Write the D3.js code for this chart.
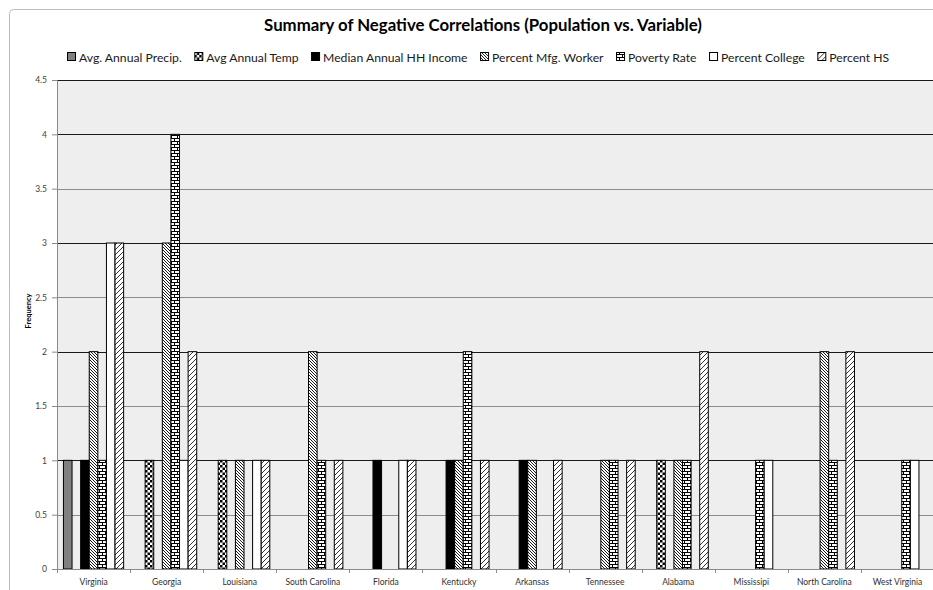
<!DOCTYPE html>
<html>
<head>
<meta charset="utf-8">
<script src="https://cdn.jsdelivr.net/npm/d3@7/dist/d3.min.js"></script>
<style>
  html, body { margin: 0; padding: 0; background: #fff; }
  svg { display: block; }
  text { font-family: Lato, "Open Sans", "Liberation Sans", sans-serif; }
</style>
</head>
<body>
<svg id="chart" width="933" height="590"></svg>
<script>
// Frequency of negative correlations per state, by variable
const categories = ["Virginia", "Georgia", "Louisiana", "South Carolina", "Florida", "Kentucky",
  "Arkansas", "Tennessee", "Alabama", "Mississipi", "North Carolina", "West Virginia"];
const seriesNames = ["Avg. Annual Precip.", "Avg Annual Temp", "Median Annual HH Income",
  "Percent Mfg. Worker", "Poverty Rate", "Percent College", "Percent HS"];

const precip  = [1, 0, 0, 0, 0, 0, 0, 0, 0, 0, 0, 0];
const temp    = [0, 1, 1, 0, 0, 0, 0, 0, 1, 0, 0, 0];
const income  = [1, 0, 0, 0, 1, 1, 1, 0, 0, 0, 0, 0];
const mfg     = [2, 3, 1, 2, 0, 1, 1, 1, 1, 0, 2, 0];
const poverty = [1, 4, 0, 1, 0, 2, 0, 1, 1, 1, 1, 1];
const college = [3, 1, 1, 0, 1, 0, 0, 0, 0, 1, 0, 1];
const hs      = [3, 2, 1, 1, 1, 1, 1, 1, 2, 0, 2, 0];

const yTicks = [0, 0.5, 1, 1.5, 2, 2.5, 3, 3.5, 4, 4.5];

const seriesValues = [precip, temp, income, mfg, poverty, college, hs];
const fills = ["url(#pSolidGray)", "url(#pChecker)", "#000", "url(#pDenseDiag)",
  "url(#pBrick)", "#fff", "url(#pWideDiag)"];

const svg = d3.select("#chart");
const plot = { left: 57, right: 934, top: 80, bottom: 569 };

// ---- fill patterns ----
const defs = svg.append("defs");

const solid = defs.append("pattern").attr("id", "pSolidGray")
  .attr("patternUnits", "userSpaceOnUse").attr("width", 4).attr("height", 4);
solid.append("rect").attr("width", 4).attr("height", 4).attr("fill", "#808080");

const checker = defs.append("pattern").attr("id", "pChecker")
  .attr("patternUnits", "userSpaceOnUse").attr("width", 5).attr("height", 5);
checker.append("rect").attr("width", 5).attr("height", 5).attr("fill", "#fff");
checker.append("rect").attr("width", 2.5).attr("height", 2.5).attr("fill", "#000");
checker.append("rect").attr("x", 2.5).attr("y", 2.5).attr("width", 2.5).attr("height", 2.5).attr("fill", "#000");

const dense = defs.append("pattern").attr("id", "pDenseDiag")
  .attr("patternUnits", "userSpaceOnUse").attr("width", 3).attr("height", 3);
dense.append("rect").attr("width", 3).attr("height", 3).attr("fill", "#fff");
dense.append("path").attr("d", "M-1,-1 L4,4 M-1,2 L1,4 M2,-1 L4,1")
  .attr("stroke", "#000").attr("stroke-width", 0.9);

const brick = defs.append("pattern").attr("id", "pBrick")
  .attr("patternUnits", "userSpaceOnUse").attr("width", 6).attr("height", 6);
brick.append("rect").attr("width", 6).attr("height", 6).attr("fill", "#fff");
brick.append("path")
  .attr("d", "M0,0.5 H6 M0,3.5 H6 M0.5,0.5 V3.5 M3.5,3.5 V6.5")
  .attr("stroke", "#000").attr("stroke-width", 1);

const wide = defs.append("pattern").attr("id", "pWideDiag")
  .attr("patternUnits", "userSpaceOnUse").attr("width", 5).attr("height", 5);
wide.append("rect").attr("width", 5).attr("height", 5).attr("fill", "#fff");
wide.append("path").attr("d", "M-1,6 L6,-1 M-1,1 L1,-1 M4,6 L6,4")
  .attr("stroke", "#000").attr("stroke-width", 0.8);

// ---- chart frame ----
svg.append("rect").attr("x", 9.5).attr("y", 9.5).attr("width", 1000).attr("height", 1000)
  .attr("rx", 4).attr("fill", "#fff").attr("stroke", "#bdbdbd").attr("stroke-width", 1);

// ---- scales ----
const x0 = d3.scaleBand().domain(categories).range([plot.left, plot.right]).padding(0);
const x1 = d3.scaleBand().domain(d3.range(seriesNames.length))
  .range([0, x0.bandwidth()]).paddingInner(0).paddingOuter(0.75);
const y = d3.scaleLinear().domain([0, 4.5]).range([plot.bottom, plot.top]);

// plot area
svg.append("rect").attr("x", plot.left).attr("y", plot.top)
  .attr("width", plot.right - plot.left).attr("height", plot.bottom - plot.top)
  .attr("fill", "#eeeeee");

// gridlines
svg.append("g").selectAll("line").data(yTicks.filter(t => t > 0)).join("line")
  .attr("x1", plot.left).attr("x2", plot.right)
  .attr("y1", d => Math.round(y(d)) + 0.5).attr("y2", d => Math.round(y(d)) + 0.5)
  .attr("stroke", d => Number.isInteger(d) || d === 4.5 ? "#1a1a1a" : "#8c8c8c")
  .attr("stroke-width", 1);

// ---- bars ----
const barData = [];
categories.forEach((c, i) => {
  seriesValues.forEach((vals, s) => {
    if (vals[i] > 0) barData.push({ cat: c, s, v: vals[i] });
  });
});

svg.append("g").selectAll("rect").data(barData).join("rect")
  .attr("x", d => x0(d.cat) + x1(d.s))
  .attr("y", d => y(d.v))
  .attr("width", x1.bandwidth())
  .attr("height", d => y(0) - y(d.v))
  .attr("fill", d => fills[d.s])
  .attr("stroke", "#000")
  .attr("stroke-width", 1);

// ---- y axis ----
const yAxis = d3.axisLeft(y).tickValues(yTicks).tickSize(5).tickPadding(5)
  .tickFormat(d => String(d));
const gy = svg.append("g").attr("transform", `translate(${plot.left},0)`).call(yAxis);
gy.select(".domain").attr("stroke", "#8a8a8a");
gy.selectAll(".tick line").attr("stroke", "#8a8a8a");
gy.selectAll(".tick text").attr("fill", "#404040").style("font-size", "8.5px");

// ---- x axis ----
const xAxis = d3.axisBottom(x0).tickSize(0).tickPadding(10);
const gx = svg.append("g").attr("transform", `translate(0,${plot.bottom})`).call(xAxis);
gx.select(".domain").attr("stroke", "#8a8a8a");
gx.selectAll(".tick text").attr("fill", "#303030").style("font-size", "8.5px");
// category boundary ticks
gx.append("g").selectAll("line")
  .data(categories.map(c => x0(c)).concat([plot.right]))
  .join("line")
  .attr("x1", d => Math.round(d) + 0.5).attr("x2", d => Math.round(d) + 0.5)
  .attr("y1", 0).attr("y2", 4)
  .attr("stroke", "#8a8a8a");

// axis title
svg.append("text")
  .attr("transform", "translate(31,311) rotate(-90)")
  .attr("text-anchor", "middle")
  .style("font-size", "7.5px").style("font-weight", "bold")
  .attr("fill", "#000")
  .text("Frequency");

// ---- title ----
svg.append("text")
  .attr("x", 483).attr("y", 31)
  .attr("text-anchor", "middle")
  .style("font-size", "16.8px").style("font-weight", "bold")
  .attr("fill", "#000")
  .text("Summary of Negative Correlations (Population vs. Variable)");

// ---- legend ----
const legend = svg.append("g");
let lx = 67;
seriesNames.forEach((name, s) => {
  const g = legend.append("g").attr("transform", `translate(${lx},0)`);
  g.append("rect").attr("x", 0.5).attr("y", 52.5).attr("width", 8).attr("height", 8)
    .attr("fill", fills[s]).attr("stroke", "#000").attr("stroke-width", 1);
  const t = g.append("text").attr("x", 12).attr("y", 61.5)
    .style("font-size", "12.2px").attr("fill", "#1a1a1a").text(name);
  lx += 12 + t.node().getComputedTextLength() + 12.5;
});
</script>
</body>
</html>
